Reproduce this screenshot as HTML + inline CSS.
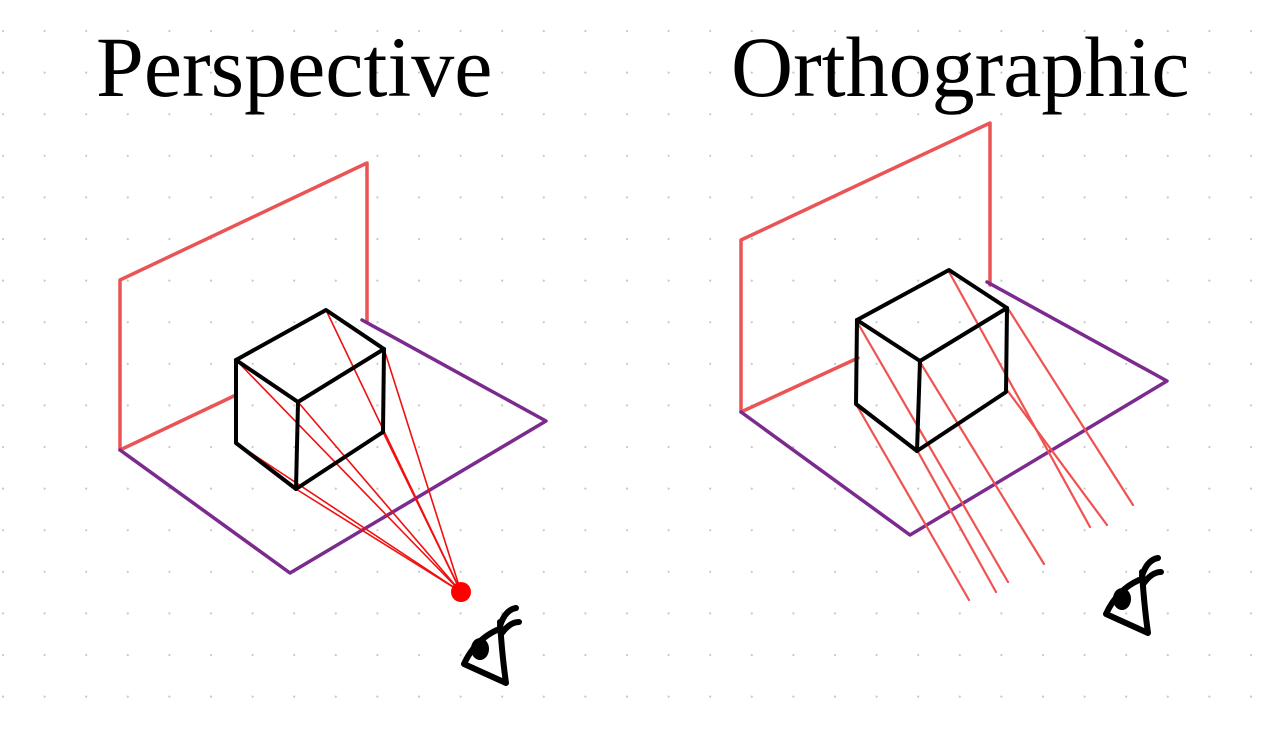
<!DOCTYPE html>
<html><head><meta charset="utf-8"><style>
html,body{margin:0;padding:0;background:#fff;width:1280px;height:735px;overflow:hidden}
svg{display:block}
text{font-family:"Liberation Serif",serif;fill:#000}
</style></head><body>
<svg id="s" width="1280" height="735" viewBox="0 0 1280 735">
<g id="dots"></g>
<text x="96" y="96" font-size="86">Perspective</text>
<text x="731" y="96" font-size="86">Orthographic</text>

<g fill="none" stroke-linejoin="round" stroke-linecap="round">
<polyline points="367,322 367,163 120,280 120,450 236,395" stroke="#ea5455" stroke-width="3.5"/>
<polyline points="362,320 546,421 290,573 120,450" stroke="#7b2a8e" stroke-width="3.5"/>
<g id="prays" stroke="#f01010" stroke-width="1.6"></g>
<g stroke="#000" stroke-width="4">
<polygon points="236,360 326,310 384,349 298,402"/>
<polyline points="236,360 236,443 296,489 383,432 384,349"/>
<line x1="298" y1="402" x2="296" y2="489"/>
</g>
<circle cx="461" cy="592" r="10" fill="#f00" stroke="none"/>
<g stroke="#000" stroke-width="6">
<path d="M500,622 Q502,655 506,683 L464,664 Q475,640 497,630"/>
<path d="M500,626 Q505,610 516,608 M502,633 Q510,622 519,622"/>
<ellipse cx="480" cy="649" rx="8" ry="10" fill="#000" stroke-width="2"/>
</g>
</g>

<g fill="none" stroke-linejoin="round" stroke-linecap="round">
<polyline points="990,285 990,123 741,240 741,412 858,358" stroke="#ea5455" stroke-width="3.5"/>
<polyline points="987,282 1167,381 910,535 741,412" stroke="#7b2a8e" stroke-width="3.5"/>
<g id="orays" stroke="#f05252" stroke-width="2.2"></g>
<g stroke="#000" stroke-width="4">
<polygon points="857,320 949,270 1007,308 920,361"/>
<polyline points="857,320 856,404 917,451 1006,392 1007,308"/>
<line x1="920" y1="361" x2="917" y2="451"/>
</g>
<g stroke="#000" stroke-width="6" transform="translate(642,-50)">
<path d="M500,622 Q502,655 506,683 L464,664 Q475,640 497,630"/>
<path d="M500,626 Q505,610 516,608 M502,633 Q510,622 519,622"/>
<ellipse cx="480" cy="649" rx="8" ry="10" fill="#000" stroke-width="2"/>
</g>
</g>
</svg>
<script>
const NS="http://www.w3.org/2000/svg";
const pVerts=[[236,360],[326,310],[384,349],[298,402],[236,443],[296,489],[383,432]];
const oStarts=[[856,320],[856,404],[917,450],[920,362],[948,270],[1007,390],[1007,307]];
const oEnds=[[1008,582],[969,600],[996,592],[1044,564],[1090,527],[1107,525],[1133,505]];
const dg=document.getElementById('dots');
for(let y=31;y<735;y+=41.6)for(let x=3;x<1280;x+=41.6){
 const c=document.createElementNS(NS,'circle');c.setAttribute('cx',x);c.setAttribute('cy',y);c.setAttribute('r',1.1);c.setAttribute('fill','#c8c8c8');
 
 
 dg.appendChild(c);}
const pr=document.getElementById('prays');
pVerts.forEach(v=>{const l=document.createElementNS(NS,'line');
 l.setAttribute('x1',461);l.setAttribute('y1',592);l.setAttribute('x2',v[0]);l.setAttribute('y2',v[1]);
 
 
 pr.appendChild(l);});
const orr=document.getElementById('orays');
oStarts.forEach((v,i)=>{const l=document.createElementNS(NS,'line');
 l.setAttribute('x1',v[0]);l.setAttribute('y1',v[1]);l.setAttribute('x2',oEnds[i][0]);l.setAttribute('y2',oEnds[i][1]);
 
 
 orr.appendChild(l);});
</script>
</body></html>
